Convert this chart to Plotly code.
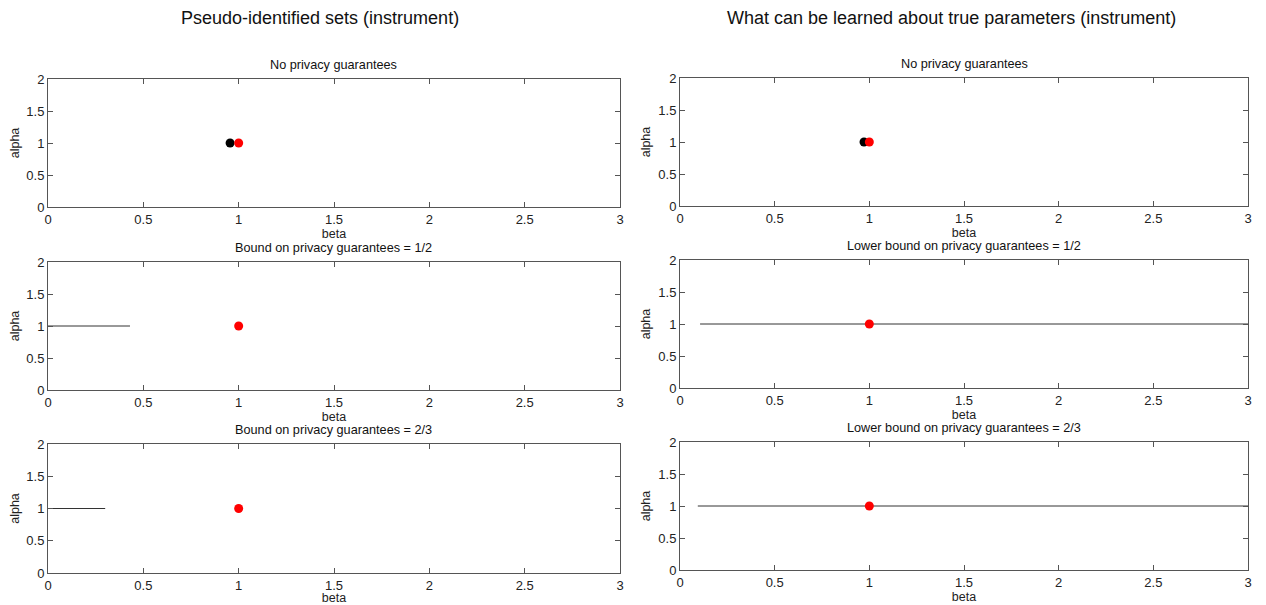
import plotly.graph_objects as go

# The page body keeps its default 8px margin, so the figure is offset by 8px.
OFF = 8
W, H = 1266 - 2 * OFF, 605 - OFF

# Data
pseudo_est_beta = [0.955]      # black point, left top
pseudo_true_beta = [1.0]       # red point
learn_est_beta = [0.972]       # black point, right top
learn_true_beta = [1.0]
alpha_val = [1.0]
left_line_beta = {"1/2": [0.0, 0.43], "2/3": [0.0, 0.30]}
right_line_beta = {"1/2": [0.106, 3.0], "2/3": [0.094, 3.0]}

suptitles = ["Pseudo-identified sets (instrument)",
             "What can be learned about true parameters (instrument)"]
left_titles = ["No privacy guarantees", "Bound on privacy guarantees = 1/2",
               "Bound on privacy guarantees = 2/3"]
right_titles = ["No privacy guarantees", "Lower bound on privacy guarantees = 1/2",
                "Lower bound on privacy guarantees = 2/3"]
x_ticks = [0, 0.5, 1, 1.5, 2, 2.5, 3]
y_ticks = [0, 0.5, 1, 1.5, 2]

FONT = "Liberation Sans, Arial, sans-serif"
AX = "#555555"


def px(x):
    return (x - OFF) / W


def py(y):
    return 1 - (y - OFF) / H


# pixel boxes in page coordinates: (x0, x1, ytop, ybottom)
boxes = [
    (48, 620, 79, 207), (680, 1248, 78, 206),
    (48, 620, 262, 390), (680, 1248, 260, 388),
    (48, 620, 444, 573), (680, 1248, 442, 570),
]

fig = go.Figure()
layout = {}
annotations = []

panel_titles = [left_titles[0], right_titles[0], left_titles[1], right_titles[1],
                left_titles[2], right_titles[2]]

for i, (x0, x1, yt, yb) in enumerate(boxes):
    n = i + 1
    xa = "xaxis" if n == 1 else f"xaxis{n}"
    ya = "yaxis" if n == 1 else f"yaxis{n}"
    xr = "x" if n == 1 else f"x{n}"
    yr = "y" if n == 1 else f"y{n}"
    common = dict(showgrid=False, zeroline=False, showline=True, linecolor=AX,
                  linewidth=1, mirror="ticks", ticks="inside", ticklen=5,
                  tickcolor=AX, automargin=False,
                  tickfont=dict(family=FONT, size=13, color="#222"))
    layout[xa] = dict(domain=[px(x0), px(x1)], range=[0, 3], tickvals=x_ticks,
                      ticktext=[f"{v:g}" for v in x_ticks], anchor=yr,
                      title=dict(text="beta", font=dict(family=FONT, size=12.5, color="#222"),
                                 standoff=0), **common)
    layout[ya] = dict(domain=[py(yb), py(yt)], range=[0, 2], tickvals=y_ticks,
                      ticktext=[f"{v:g}" for v in y_ticks], anchor=xr,
                      title=dict(text="alpha", font=dict(family=FONT, size=12.5, color="#222"),
                                 standoff=4), **common)
    annotations.append(dict(text=panel_titles[i], x=px((x0 + x1) / 2), y=py(yt - 5),
                            xref="paper", yref="paper", showarrow=False, yanchor="bottom",
                            xanchor="center",
                            font=dict(family=FONT, size=12.7, color="#111")))

    if i == 0:
        fig.add_trace(go.Scatter(x=pseudo_est_beta, y=alpha_val, mode="markers",
                                 marker=dict(color="black", size=9), xaxis=xr, yaxis=yr))
        fig.add_trace(go.Scatter(x=pseudo_true_beta, y=alpha_val, mode="markers",
                                 marker=dict(color="red", size=9), xaxis=xr, yaxis=yr))
    elif i == 1:
        fig.add_trace(go.Scatter(x=learn_est_beta, y=alpha_val, mode="markers",
                                 marker=dict(color="black", size=9), xaxis=xr, yaxis=yr))
        fig.add_trace(go.Scatter(x=learn_true_beta, y=alpha_val, mode="markers",
                                 marker=dict(color="red", size=9), xaxis=xr, yaxis=yr))
    else:
        key = "1/2" if i in (2, 3) else "2/3"
        lx = left_line_beta[key] if i % 2 == 0 else right_line_beta[key]
        fig.add_trace(go.Scatter(x=lx, y=alpha_val * 2, mode="lines",
                                 line=dict(color="#333333", width=1), xaxis=xr, yaxis=yr))
        fig.add_trace(go.Scatter(x=pseudo_true_beta, y=alpha_val, mode="markers",
                                 marker=dict(color="red", size=9), xaxis=xr, yaxis=yr))

annotations.append(dict(text=suptitles[0], x=px(320), y=py(18), xref="paper", yref="paper",
                        showarrow=False, xanchor="center", yanchor="middle",
                        font=dict(family=FONT, size=18, color="#111")))
annotations.append(dict(text=suptitles[1], x=px(951), y=py(18), xref="paper", yref="paper",
                        showarrow=False, xanchor="center", yanchor="middle",
                        font=dict(family=FONT, size=18, color="#111")))

fig.update_layout(width=W, height=H, margin=dict(l=0, r=0, t=0, b=0),
                  paper_bgcolor="white", plot_bgcolor="white", showlegend=False,
                  annotations=annotations, **layout)

fig.write_html("out.html")
